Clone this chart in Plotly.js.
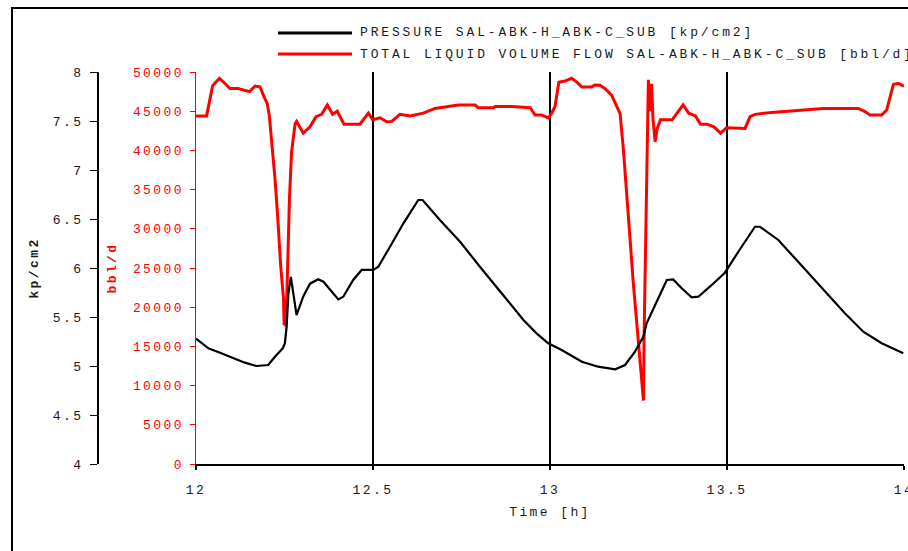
<!DOCTYPE html>
<html>
<head>
<meta charset="utf-8">
<script src="https://cdn.plot.ly/plotly-3.0.1.min.js"></script>
<style>
  html, body { margin: 0; padding: 0; background: #ffffff; }
  #chart { width: 908px; height: 551px; }
  svg text { letter-spacing: 2.4px; }
  svg text.annotation-text { letter-spacing: 2.85px; }
</style>
</head>
<body>
<div id="chart"></div>
<script>
// ---- data ----
const flowTime = [12.000,12.030,12.047,12.066,12.077,12.096,12.119,12.134,12.151,12.167,12.181,12.192,12.201,12.207,12.214,12.223,12.231,12.239,12.247,12.249,12.251,12.254,12.259,12.264,12.270,12.280,12.284,12.303,12.322,12.339,12.355,12.371,12.386,12.399,12.418,12.463,12.487,12.499,12.520,12.539,12.553,12.576,12.605,12.623,12.642,12.675,12.708,12.741,12.788,12.797,12.840,12.845,12.892,12.944,12.958,12.977,12.995,13.005,13.014,13.025,13.042,13.061,13.075,13.090,13.118,13.127,13.141,13.155,13.174,13.188,13.198,13.207,13.217,13.226,13.235,13.245,13.254,13.264,13.266,13.270,13.273,13.278,13.282,13.287,13.291,13.297,13.303,13.312,13.345,13.359,13.376,13.392,13.411,13.425,13.444,13.463,13.482,13.499,13.551,13.565,13.579,13.626,13.701,13.772,13.871,13.890,13.904,13.937,13.951,13.960,13.970,13.984,13.998,14.000];
const flowValues = [44400,44400,48250,49200,48750,47900,47900,47700,47500,48200,48100,46850,46000,44500,41100,36500,31400,25400,21200,17700,21000,17500,25400,33900,39800,43400,43700,42200,43000,44300,44600,45800,44600,45000,43350,43350,44750,43900,44150,43650,43700,44600,44400,44600,44750,45350,45600,45800,45800,45450,45450,45600,45600,45450,44500,44500,44150,44750,45600,48700,48850,49200,48750,48100,48100,48350,48300,47900,47050,45600,44700,40300,34700,28800,23250,17700,12600,8100,16900,28800,38800,49000,45000,48500,44000,41100,42800,43900,43900,44750,45800,44750,44400,43350,43350,43000,42200,42900,42800,44300,44600,44850,45150,45350,45350,44950,44500,44500,45150,46650,48400,48550,48250,48200];

const pressTime = [12.000,12.035,12.068,12.105,12.138,12.171,12.204,12.223,12.245,12.251,12.256,12.261,12.268,12.275,12.284,12.303,12.322,12.345,12.360,12.402,12.416,12.444,12.468,12.501,12.515,12.548,12.586,12.628,12.640,12.689,12.746,12.802,12.864,12.925,12.962,12.995,13.033,13.090,13.136,13.184,13.212,13.240,13.264,13.273,13.297,13.330,13.348,13.372,13.400,13.419,13.457,13.494,13.532,13.565,13.579,13.593,13.645,13.692,13.739,13.786,13.833,13.885,13.937,13.998];
const pressValues = [5.28,5.18,5.136,5.078,5.034,5.00,5.01,5.095,5.18,5.23,5.40,5.74,5.91,5.74,5.52,5.71,5.84,5.885,5.86,5.68,5.707,5.878,5.98,5.98,6.013,6.217,6.456,6.694,6.694,6.49,6.268,6.013,5.742,5.47,5.333,5.232,5.163,5.044,4.993,4.966,5.01,5.146,5.30,5.436,5.622,5.878,5.884,5.793,5.70,5.707,5.827,5.952,6.166,6.354,6.421,6.421,6.286,6.099,5.911,5.724,5.538,5.35,5.232,5.13];

const timeTicks = [12, 12.5, 13, 13.5, 14];
const timeTickLabels = ["12", "12.5", "13", "13.5", "14"];
const pressTicks = [4, 4.5, 5, 5.5, 6, 6.5, 7, 7.5, 8];
const pressTickLabels = ["4", "4.5", "5", "5.5", "6", "6.5", "7", "7.5", "8"];
const flowTicks = [0, 5000, 10000, 15000, 20000, 25000, 30000, 35000, 40000, 45000, 50000];
const flowTickLabels = ["0", "5000", "10000", "15000", "20000", "25000", "30000", "35000", "40000", "45000", "50000"];

const pressName = "PRESSURE SAL-ABK-H_ABK-C_SUB [kp/cm2]";
const flowName = "TOTAL LIQUID VOLUME FLOW SAL-ABK-H_ABK-C_SUB [bbl/d]";

// ---- chart ----
const FONT = "Liberation Mono, DejaVu Sans Mono, monospace";
const RED = "#ff0000";
const INK = "#1a1a1a";

const traces = [
  { x: flowTime, y: flowValues, name: flowName, type: "scatter", mode: "lines",
    yaxis: "y", line: { color: RED, width: 3 } },
  { x: pressTime, y: pressValues, name: pressName, type: "scatter", mode: "lines",
    yaxis: "y2", line: { color: "#000000", width: 2.2 } }
];

const W = 908, H = 551, ML = 60, MR = 4, MT = 72, MB = 87;
const pw = W - ML - MR, ph = H - MT - MB;
const px = v => (v - ML) / pw;         // pixel -> paper x
const py = v => (H - MB - v) / ph;     // pixel -> paper y

const layout = {
  width: W, height: H,
  margin: { l: ML, r: MR, t: MT, b: MB, pad: 0 },
  paper_bgcolor: "#ffffff", plot_bgcolor: "#ffffff",
  font: { family: FONT, size: 13, color: INK },
  showlegend: false,
  xaxis: {
    domain: [px(196), 1], range: [12, 14],
    tickmode: "array", tickvals: timeTicks, ticktext: timeTickLabels,
    ticks: "outside", ticklen: 4, tickcolor: "#000", tickwidth: 1.2,
    showline: true, linecolor: "#000", linewidth: 2,
    showgrid: true, gridcolor: "#000", gridwidth: 1.2,
    zeroline: false, ticklabelstandoff: 8, ticklabeloverflow: "allow",
    tickfont: { family: FONT, size: 13, color: INK },
    title: { text: "Time [h]", standoff: 10, font: { family: FONT, size: 13, color: INK } },
    automargin: false
  },
  yaxis: {
    anchor: "x", side: "left", range: [0, 50000],
    tickmode: "array", tickvals: flowTicks, ticktext: flowTickLabels,
    ticks: "outside", ticklen: 5, tickcolor: RED,
    showline: true, linecolor: RED, linewidth: 1.5,
    showgrid: false, zeroline: false, ticklabeloverflow: "allow", ticklabelstandoff: 3,
    tickfont: { family: FONT, size: 13, color: RED },
    title: { text: "bbl/d", standoff: 13, font: { family: FONT, size: 13, color: RED, weight: "bold" } },
    automargin: false
  },
  yaxis2: {
    overlaying: "y", anchor: "free", position: px(97), side: "left", range: [4, 8],
    tickmode: "array", tickvals: pressTicks, ticktext: pressTickLabels,
    ticks: "outside", ticklen: 7, tickcolor: "#000",
    showline: true, linecolor: "#000", linewidth: 1.5,
    showgrid: false, zeroline: false, ticklabelstandoff: 4, ticklabeloverflow: "allow",
    tickfont: { family: FONT, size: 13, color: INK },
    title: { text: "kp/cm2", standoff: 9, font: { family: FONT, size: 13, color: INK, weight: "bold" } },
    automargin: false
  },
  shapes: [
    { type: "rect", xref: "paper", yref: "paper", x0: px(12), y0: py(8), x1: px(930), y1: py(580),
      line: { color: "#000", width: 2 }, fillcolor: "rgba(0,0,0,0)", layer: "below" },
    { type: "line", xref: "paper", yref: "paper", x0: px(278), x1: px(352), y0: py(33), y1: py(33),
      line: { color: "#000", width: 3 } },
    { type: "line", xref: "paper", yref: "paper", x0: px(278), x1: px(352), y0: py(54), y1: py(54),
      line: { color: RED, width: 3 } }
  ],
  annotations: [
    { xref: "paper", yref: "paper", x: px(358), y: py(33), xanchor: "left", yanchor: "middle",
      text: pressName, showarrow: false, font: { family: FONT, size: 13, color: INK } },
    { xref: "paper", yref: "paper", x: px(358), y: py(54), xanchor: "left", yanchor: "middle",
      text: flowName, showarrow: false, font: { family: FONT, size: 13, color: INK } }
  ]
};

Plotly.newPlot("chart", traces, layout, { staticPlot: true, displayModeBar: false });
</script>
</body>
</html>
